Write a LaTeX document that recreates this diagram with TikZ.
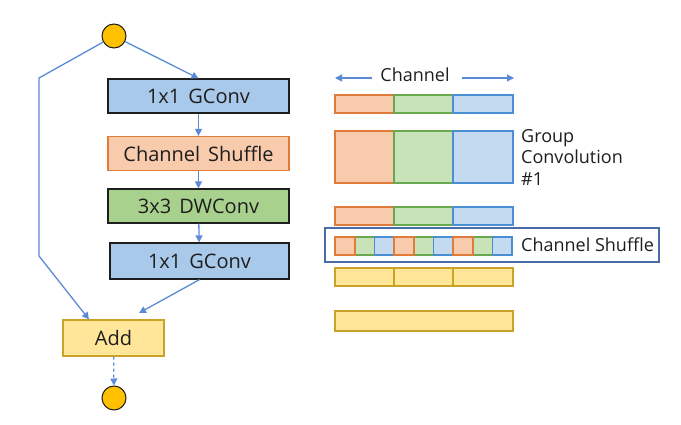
\documentclass[tikz,border=0pt]{standalone}
\usepackage{fontspec}
\setmainfont{Open Sans}
\usetikzlibrary{arrows.meta}
\definecolor{bfill}{HTML}{A9C9EA}
\definecolor{ofill}{HTML}{F8CBAD}
\definecolor{oline}{HTML}{E07B39}
\definecolor{gfill}{HTML}{A9D18E}
\definecolor{gfillL}{HTML}{C9E3B8}
\definecolor{gline}{HTML}{6AA84F}
\definecolor{bfillL}{HTML}{C3DAF0}
\definecolor{bline}{HTML}{4A8FD6}
\definecolor{yfill}{HTML}{FFE699}
\definecolor{yline}{HTML}{C9A227}
\definecolor{circ}{HTML}{FFC000}
\definecolor{arr}{HTML}{5B8BD6}
\definecolor{frame}{HTML}{4A6BA8}
\definecolor{dark}{HTML}{1E1E1E}
\newcommand{\blkfont}{\fontsize{20}{22}\selectfont\spaceskip=0.4em\relax}
\tikzset{
  blk/.style={draw=dark, line width=1.2pt, minimum width=181pt, minimum height=34pt, inner sep=0pt, text=dark, font=\blkfont},
  io/.style={circle, draw=dark, fill=circ, line width=1pt, minimum size=24pt, inner sep=0pt},
  conn/.style={draw=arr, line width=1.3pt, -{Triangle[length=7pt,width=7pt]}},
  cell/.style={line width=1.2pt},
  lbl/.style={font=\fontsize{18}{21.5}\selectfont, text=dark, inner sep=0pt, anchor=west, align=left}
}
\begin{document}
\begin{tikzpicture}[x=1pt,y=-1pt]
\useasboundingbox[fill=white] (0,0) rectangle (681,425);
% left flow
\node[io] (in) at (114,36) {};
\node[blk, fill=bfill] (g1) at (198.5,96) {1x1 GConv};
\node[blk, fill=ofill, draw=oline] (cs) at (198.5,153.5) {Channel Shuffle};
\node[blk, fill=gfill] (dw) at (198.5,206) {3x3 DWConv};
\node[blk, fill=bfill, minimum width=179pt, minimum height=36pt] (g2) at (199.5,261) {1x1 GConv};
\node[blk, fill=yfill, draw=yline, minimum width=101pt, minimum height=36pt] (add) at (113.5,338) {Add};
\node[io] (out) at (114,398) {};
\coordinate (k1) at (39,78);
\coordinate (k2) at (39,256);
\coordinate (e2) at (139,313);
\draw[conn] (in) -- (g1.north);
\draw[conn] (in) -- (k1) -- (k2) -- (add.north west -| 89,0);
\draw[conn] (g1) -- (cs);
\draw[conn] (cs) -- (dw);
\draw[conn] (dw) -- (g2);
\draw[conn] (g2.south) -- (e2);
\draw[conn, dashed] (add) -- (out);
% right side
\node[lbl, anchor=center] (ch) at (415,75) {Channel};
\coordinate (la) at (335,78);
\coordinate (ra) at (514,78);
\draw[conn, line width=1.1pt] (372,78) -- (la);
\draw[conn, line width=1.1pt] (462,78) -- (ra);
% rows
\foreach \ya/\yb in {95/113, 131/183, 207/225}{
  \draw[cell, draw=oline, fill=ofill] (335,\ya) rectangle (394,\yb);
  \draw[cell, draw=gline, fill=gfillL] (394,\ya) rectangle (453,\yb);
  \draw[cell, draw=bline, fill=bfillL] (453,\ya) rectangle (513,\yb);
}
\node[lbl] (gc) at (521,157) {Group\\Convolution\\\#1};
% shuffle frame
\draw[draw=frame, line width=1.2pt] (325,228) rectangle (659,262);
\foreach \xa in {335,394,453}{
  \draw[cell, draw=oline, fill=ofill] (\xa,237) rectangle ++(20,18);
  \draw[cell, draw=gline, fill=gfillL] (\xa+20,237) rectangle ++(19.5,18);
  \draw[cell, draw=bline, fill=bfillL] (\xa+39.5,237) rectangle ++(19.5,18);
}
\foreach \xa in {335,394,453}{
  \draw[cell, draw=oline] (\xa,237) rectangle ++(20,18);
}
\node[lbl] (cslbl) at (521,245) {Channel Shuffle};
% yellow rows
\draw[cell, draw=yline, fill=yfill] (335,268) rectangle (394,286);
\draw[cell, draw=yline, fill=yfill] (394,268) rectangle (453,286);
\draw[cell, draw=yline, fill=yfill] (453,268) rectangle (513,286);
\draw[cell, draw=yline, fill=yfill] (335,311) rectangle (513,331);
\end{tikzpicture}
\end{document}
